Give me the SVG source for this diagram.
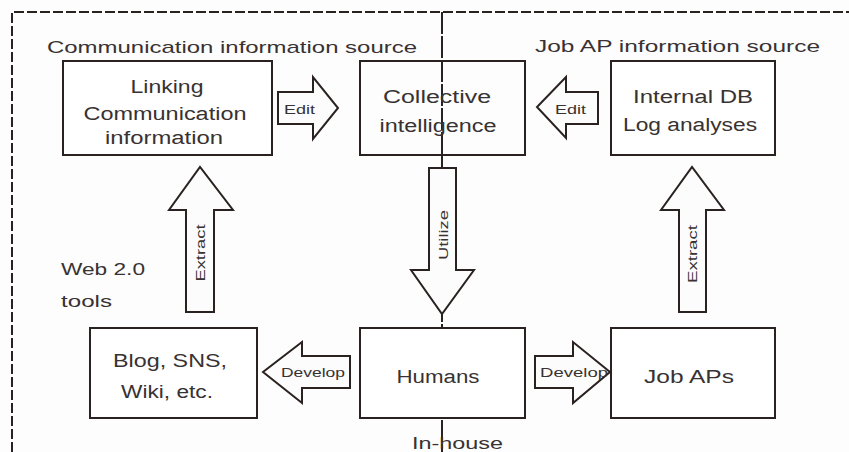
<svg xmlns="http://www.w3.org/2000/svg" width="849" height="452" viewBox="0 0 849 452">
<style>
text{font-family:"Liberation Sans","DejaVu Sans",sans-serif;fill:#383232;}
.lbl{font-size:17px;}
.box{fill:#fff;stroke:#2a2220;stroke-width:2;}
.open{fill:none;stroke:#2a2220;stroke-width:2;}
.arr{fill:#fbfcfb;stroke:#2a2220;stroke-width:2;stroke-linejoin:miter;}
.t{font-size:18px;text-anchor:middle;}
.s{font-size:13px;}
.border{fill:none;stroke:#2a2220;stroke-width:2;stroke-dasharray:10 3;}
.mid{fill:none;stroke:#2a2220;stroke-width:2;stroke-dasharray:22 2;}
</style>
<rect width="849" height="452" fill="#fdfdfd"/>
<g id="border">
<path class="border" d="M12 452 V12 H849"/>
<path class="mid" d="M442 12 V452"/>
</g>
<text class="lbl" x="47" y="53" textLength="370" lengthAdjust="spacingAndGlyphs">Communication information source</text>
<text class="lbl" x="535" y="52" textLength="285" lengthAdjust="spacingAndGlyphs">Job AP information source</text>
<text class="lbl" x="61" y="275" textLength="84" lengthAdjust="spacingAndGlyphs">Web 2.0</text>
<text class="lbl" x="61" y="307" textLength="51" lengthAdjust="spacingAndGlyphs">tools</text>
<g id="linking">
<rect class="box" x="63" y="61" width="209" height="94"/>
<text class="t" x="167" y="93" textLength="73" lengthAdjust="spacingAndGlyphs">Linking</text>
<text class="t" x="165" y="120" textLength="163" lengthAdjust="spacingAndGlyphs">Communication</text>
<text class="t" x="164" y="144" textLength="118" lengthAdjust="spacingAndGlyphs">information</text>
</g>
<g id="collective">
<rect class="open" x="360" y="61" width="165" height="94"/>
<text class="t" x="437" y="103" textLength="108" lengthAdjust="spacingAndGlyphs">Collective</text>
<text class="t" x="438" y="132" textLength="117" lengthAdjust="spacingAndGlyphs">intelligence</text>
</g>
<g id="internal">
<rect class="box" x="611" y="61" width="164" height="94"/>
<text class="t" x="693" y="103" textLength="120" lengthAdjust="spacingAndGlyphs">Internal DB</text>
<text class="t" x="690" y="131" textLength="134" lengthAdjust="spacingAndGlyphs">Log analyses</text>
</g>
<g id="blog">
<rect class="box" x="90" y="328" width="167" height="90"/>
<text class="t" x="170" y="367" textLength="114" lengthAdjust="spacingAndGlyphs">Blog, SNS,</text>
<text class="t" x="167" y="398" textLength="92" lengthAdjust="spacingAndGlyphs">Wiki, etc.</text>
</g>
<g id="humans">
<rect class="box" x="360" y="328" width="165" height="90"/>
<text class="t" x="438" y="383" textLength="83" lengthAdjust="spacingAndGlyphs">Humans</text>
</g>
<g id="jobaps">
<rect class="box" x="611" y="328" width="164" height="90"/>
<text class="t" x="689" y="383" textLength="90" lengthAdjust="spacingAndGlyphs">Job APs</text>
</g>
<g id="connectors">
<path class="arr" d="M278 92 H313 V77 L338 108 L313 139 V124 H278 Z"/>
<text class="s" x="284" y="114" textLength="31" lengthAdjust="spacingAndGlyphs">Edit</text>
<path class="arr" d="M598 92 H566 V77 L537 107 L566 138 V124 H598 Z"/>
<text class="s" x="555" y="114" textLength="31" lengthAdjust="spacingAndGlyphs">Edit</text>
<path class="arr" d="M429 168 H456 V270 H474 L442 314 L411 270 H429 Z"/>
<text class="s" transform="translate(448 235) rotate(-90)" text-anchor="middle" textLength="50" lengthAdjust="spacingAndGlyphs">Utilize</text>
<path class="arr" d="M186 312 V210 H169 L200 167 L233 210 H214 V312 Z"/>
<text class="s" transform="translate(205 253) rotate(-90)" text-anchor="middle" textLength="57" lengthAdjust="spacingAndGlyphs">Extract</text>
<path class="arr" d="M679 312 V210 H661 L692 167 L724 210 H706 V312 Z"/>
<text class="s" transform="translate(697 254) rotate(-90)" text-anchor="middle" textLength="58" lengthAdjust="spacingAndGlyphs">Extract</text>
<path class="arr" d="M350 356 H302 V342 L263 372 L302 403 V388 H350 Z"/>
<text class="s" x="281" y="377" textLength="64" lengthAdjust="spacingAndGlyphs">Develop</text>
<path class="arr" d="M535 356 H573 V342 L610 372 L573 403 V388 H535 Z"/>
<text class="s" x="540" y="377" textLength="68" lengthAdjust="spacingAndGlyphs">Develop</text>
</g>
<text class="lbl" x="412" y="449" textLength="91" lengthAdjust="spacingAndGlyphs">In-house</text>
</svg>
